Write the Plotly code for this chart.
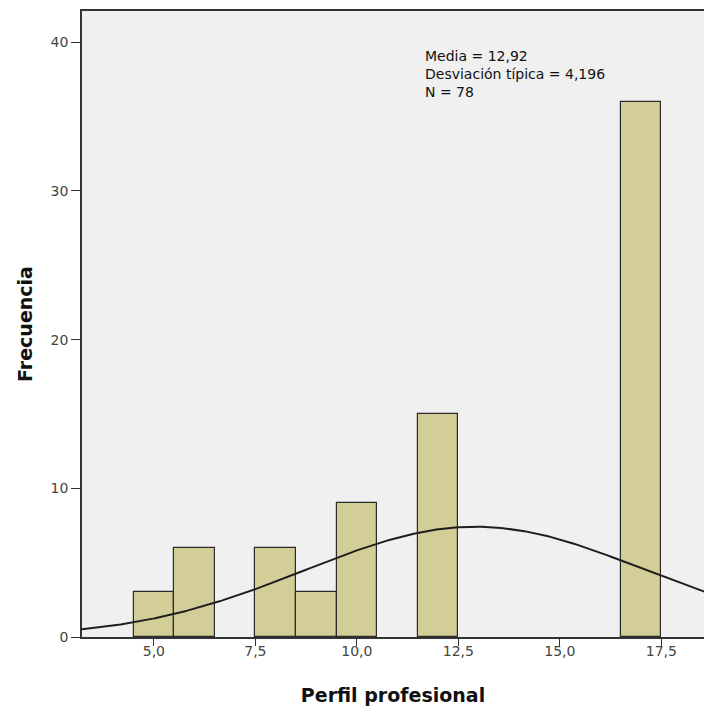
import numpy as np
import plotly.graph_objects as go

# Histogram bins (centers, width 1) and frequencies
bin_centers = [5, 6, 8, 9, 10, 12, 17]
frequencies = [3, 6, 6, 3, 9, 15, 36]
bin_width = 1.0

# Summary statistics shown in the chart
mean_val = 12.92
sd_val = 4.196
n_val = 78

x_tickvals = [5.0, 7.5, 10.0, 12.5, 15.0, 17.5]
x_ticktext = ["5,0", "7,5", "10,0", "12,5", "15,0", "17,5"]
y_tickvals = [0, 10, 20, 30, 40]

stat_lines = ["Media = 12,92", "Desviación típica = 4,196", "N = 78"]

x_range = [3.23, 18.55]
y_range = [0, 42.1]

# Fitted normal curve (from the stated mean / sd / N)
xs = np.linspace(x_range[0], x_range[1] + 0.5, 300)
ys = n_val * bin_width / (sd_val * np.sqrt(2 * np.pi)) * np.exp(-0.5 * ((xs - mean_val) / sd_val) ** 2)

FONT = "DejaVu Sans, Verdana, sans-serif"

fig = go.Figure()
fig.add_trace(go.Bar(
    x=bin_centers, y=frequencies, width=bin_width,
    marker=dict(color="#d3ce97", line=dict(color="#2a2a2a", width=1.2)),
    showlegend=False, hoverinfo="x+y",
))
fig.add_trace(go.Scatter(
    x=xs, y=ys, mode="lines",
    line=dict(color="#1e1e1e", width=2),
    showlegend=False, hoverinfo="skip",
))

fig.add_annotation(
    x=11.63, y=39.75, xref="x", yref="y",
    text="<br>".join(stat_lines), showarrow=False,
    xanchor="left", yanchor="top", align="left",
    font=dict(family=FONT, size=14, color="#111"),
)

fig.update_layout(
    width=704, height=711,
    margin=dict(l=82, r=0, t=11, b=74, autoexpand=False),
    paper_bgcolor="white",
    plot_bgcolor="#f0f0f0",
    bargap=0,
    font=dict(family=FONT, size=14, color="#444"),
    xaxis=dict(
        range=x_range, tickvals=x_tickvals, ticktext=x_ticktext,
        showgrid=False, zeroline=False, automargin=False,
        showline=True, linecolor="#333", linewidth=1.5, mirror=True,
        ticks="outside", ticklen=7, tickcolor="#333", tickwidth=1.3,
        ticklabelstandoff=-7,
        tickfont=dict(family=FONT, size=14, color="#444"),
        title=dict(text="<b>Perfil profesional</b>", font=dict(family=FONT, size=19, color="#111"), standoff=31),
    ),
    yaxis=dict(
        range=y_range, tickvals=y_tickvals,
        showgrid=False, zeroline=False, automargin=False,
        showline=True, linecolor="#333", linewidth=1.5,
        ticks="outside", ticklen=9, tickcolor="#333", tickwidth=1.3,
        tickfont=dict(family=FONT, size=14, color="#444"),
        title=dict(text="<b>Frecuencia</b>", font=dict(family=FONT, size=19, color="#111"), standoff=13),
    ),
)

fig.write_html(
    "out.html",
    config={"displayModeBar": False},
    post_script="document.body.style.margin='0';document.documentElement.style.overflow='hidden';",
)
